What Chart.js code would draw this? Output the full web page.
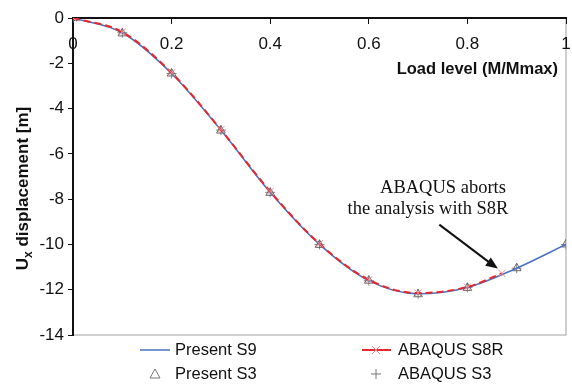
<!DOCTYPE html>
<html><head><meta charset="utf-8">
<script src="https://cdn.jsdelivr.net/npm/chart.js@4/dist/chart.umd.min.js"></script>
<style>html,body{margin:0;padding:0;background:#fff}#wrap{width:572px;height:384px}</style>
</head><body><div id="wrap"><canvas id="c" width="572" height="384"></canvas></div>
<script>
const loadLevels = [0, 0.1, 0.2, 0.3, 0.4, 0.5, 0.6, 0.7, 0.8, 0.9, 1.0];
const presentS9 = [0, -0.65, -2.45, -4.95, -7.7, -10.0, -11.6, -12.18, -11.9, -11.05, -10.0];
const presentS3 = [0, -0.68, -2.45, -4.97, -7.72, -10.02, -11.6, -12.2, -11.92, -11.05, -10.0];
const abaqusS3 = [0, -0.65, -2.45, -4.95, -7.7, -10.0, -11.6, -12.18, -11.9, -11.05, -10.0];
const s8rLevels = [0, 0.1, 0.2, 0.3, 0.4, 0.5, 0.6, 0.7, 0.8, 0.87];
const abaqusS8R = [0, -0.62, -2.42, -4.93, -7.66, -9.97, -11.56, -12.15, -11.88, -11.28];
const xTicks = [0, 0.2, 0.4, 0.6, 0.8, 1];
const yTicks = [0, -2, -4, -6, -8, -10, -12, -14];
const legendLabels = ['Present S9', 'ABAQUS S8R', 'Present S3', 'ABAQUS S3'];
const noteLines = ['ABAQUS aborts', 'the analysis with S8R'];
const noteTarget = [0.87, -11.28];
const noteStart = [0.743, -9.3];

const pts = (xs, ys) => xs.map((x, i) => ({x, y: ys[i]}));
const BLUE = '#4a72c2', RED = '#e8282c';
const SANS = '"Liberation Sans", Arial, sans-serif';

const decor = {
  id: 'decor',
  beforeDraw(chart) {
    const {ctx, chartArea: a} = chart;
    ctx.save();
    ctx.strokeStyle = '#a0a0a0'; ctx.lineWidth = 1;
    ctx.strokeRect(a.left, a.top, a.right - a.left, a.bottom - a.top);
    ctx.restore();
  },
  afterDraw(chart) {
    const {ctx, chartArea: a, scales: {x, y}} = chart;
    ctx.save();
    // x title
    ctx.fillStyle = '#111';
    ctx.font = 'bold 16.5px ' + SANS;
    ctx.textAlign = 'right'; ctx.textBaseline = 'alphabetic';
    ctx.fillText('Load level (M/Mmax)', a.right - 8, 74);
    // y title with subscript
    ctx.save();
    ctx.translate(28, (a.top + a.bottom) / 2 + 12);
    ctx.rotate(-Math.PI / 2);
    const f1 = 'bold 17px ' + SANS;
    const f2 = 'bold 12px ' + SANS;
    ctx.font = f1; const wU = ctx.measureText('U').width;
    const rest = ' displacement [m]'; const wR = ctx.measureText(rest).width;
    ctx.font = f2; const wx = ctx.measureText('x').width;
    const tot = wU + wx + wR;
    let px = -tot / 2;
    ctx.textAlign = 'left';
    ctx.font = f1; ctx.fillText('U', px, 0); px += wU;
    ctx.font = f2; ctx.fillText('x', px, 4); px += wx;
    ctx.font = f1; ctx.fillText(rest, px, 0);
    ctx.restore();
    // annotation
    ctx.font = '18.5px "Liberation Serif", "Times New Roman", serif';
    ctx.textAlign = 'center'; ctx.fillStyle = '#111';
    ctx.fillText(noteLines[0], 443, 193);
    ctx.fillText(noteLines[1], 428, 214);
    const sx = x.getPixelForValue(noteStart[0]), sy = y.getPixelForValue(noteStart[1]);
    const tx = x.getPixelForValue(noteTarget[0]) - 4, ty = y.getPixelForValue(noteTarget[1]) - 5;
    const ang = Math.atan2(ty - sy, tx - sx);
    ctx.strokeStyle = '#111'; ctx.lineWidth = 2;
    ctx.beginPath(); ctx.moveTo(sx, sy - 4);
    ctx.lineTo(tx - 8 * Math.cos(ang), ty - 8 * Math.sin(ang)); ctx.stroke();
    ctx.beginPath();
    ctx.moveTo(tx, ty);
    ctx.lineTo(tx - 12 * Math.cos(ang) + 5 * Math.sin(ang), ty - 12 * Math.sin(ang) - 5 * Math.cos(ang));
    ctx.lineTo(tx - 12 * Math.cos(ang) - 5 * Math.sin(ang), ty - 12 * Math.sin(ang) + 5 * Math.cos(ang));
    ctx.closePath(); ctx.fillStyle = '#111'; ctx.fill();
    // legend
    ctx.font = '16.5px ' + SANS;
    ctx.textAlign = 'left'; ctx.textBaseline = 'middle'; ctx.fillStyle = '#111';
    const r1 = 350, r2 = 374, c1 = 140, c2 = 362;
    ctx.lineWidth = 1.5; ctx.strokeStyle = BLUE;
    ctx.beginPath(); ctx.moveTo(c1, r1); ctx.lineTo(c1 + 30, r1); ctx.stroke();
    ctx.fillText(legendLabels[0], c1 + 35, r1);
    ctx.lineWidth = 2; ctx.strokeStyle = RED;
    ctx.beginPath(); ctx.moveTo(c2, r1); ctx.lineTo(c2 + 29, r1); ctx.stroke();
    ctx.lineWidth = 1; ctx.strokeStyle = '#f08a8a';
    ctx.beginPath(); ctx.moveTo(c2 + 10, r1 - 4); ctx.lineTo(c2 + 18, r1 + 4);
    ctx.moveTo(c2 + 18, r1 - 4); ctx.lineTo(c2 + 10, r1 + 4); ctx.stroke();
    ctx.fillText(legendLabels[1], c2 + 36, r1);
    ctx.strokeStyle = '#777'; ctx.lineWidth = 1;
    ctx.beginPath(); ctx.moveTo(c1 + 15, r2 - 5); ctx.lineTo(c1 + 20, r2 + 4); ctx.lineTo(c1 + 10, r2 + 4); ctx.closePath(); ctx.stroke();
    ctx.fillText(legendLabels[2], c1 + 35, r2);
    ctx.beginPath(); ctx.moveTo(c2 + 14, r2 - 5); ctx.lineTo(c2 + 14, r2 + 5);
    ctx.moveTo(c2 + 9, r2); ctx.lineTo(c2 + 19, r2); ctx.stroke();
    ctx.fillText(legendLabels[3], c2 + 36, r2);
    ctx.restore();
  }
};

new Chart(document.getElementById('c'), {
  type: 'line',
  data: {
    datasets: [
      {label: 'ABAQUS S8R', data: pts(s8rLevels, abaqusS8R), borderColor: RED, borderWidth: 2, borderDash: [7, 4],
       pointStyle: 'crossRot', pointRadius: 5, pointBorderColor: '#f08a8a', pointBorderWidth: 1,
       cubicInterpolationMode: 'monotone', order: 1},
      {label: 'Present S9', data: pts(loadLevels, presentS9), borderColor: BLUE, borderWidth: 1.6,
       pointRadius: 0, cubicInterpolationMode: 'monotone', order: 2},
      {label: 'Present S3', data: pts(loadLevels, presentS3), showLine: false, pointStyle: 'triangle',
       pointRadius: 5, pointBorderColor: '#666', pointBackgroundColor: 'rgba(255,255,255,0)', pointBorderWidth: 1, order: 3},
      {label: 'ABAQUS S3', data: pts(loadLevels, abaqusS3), showLine: false, pointStyle: 'cross',
       pointRadius: 5, pointBorderColor: '#888', pointBorderWidth: 1, order: 4}
    ]
  },
  options: {
    responsive: false, animation: false, events: [],
    layout: {padding: {left: 0, right: 5, top: 18, bottom: 49}},
    plugins: {legend: {display: false}, tooltip: {enabled: false}},
    scales: {
      x: {type: 'linear', min: 0, max: 1, position: {y: 0},
        afterFit(s) { s.height = 0; s.paddingLeft = 0; s.paddingRight = 0; },
        afterBuildTicks(s) { s.ticks = xTicks.map(v => ({value: v})); },
        grid: {drawOnChartArea: false, drawTicks: true, tickLength: 5, color: '#111'},
        border: {color: '#111', width: 2},
        ticks: {color: '#111', font: {size: 17, family: SANS}, padding: 11,
          maxRotation: 0, callback: v => String(v)}
      },
      y: {min: -14, max: 0,
        afterFit(s) { s.width = 73; s.paddingTop = 0; s.paddingBottom = 0; },
        afterBuildTicks(s) { s.ticks = yTicks.map(v => ({value: v})); },
        grid: {drawOnChartArea: false, drawTicks: true, tickLength: 5, color: '#111'},
        border: {color: '#111', width: 2},
        ticks: {color: '#111', font: {size: 17, family: SANS}, padding: 4,
          callback: v => String(v)}
      }
    }
  },
  plugins: [decor]
});
</script></body></html>
